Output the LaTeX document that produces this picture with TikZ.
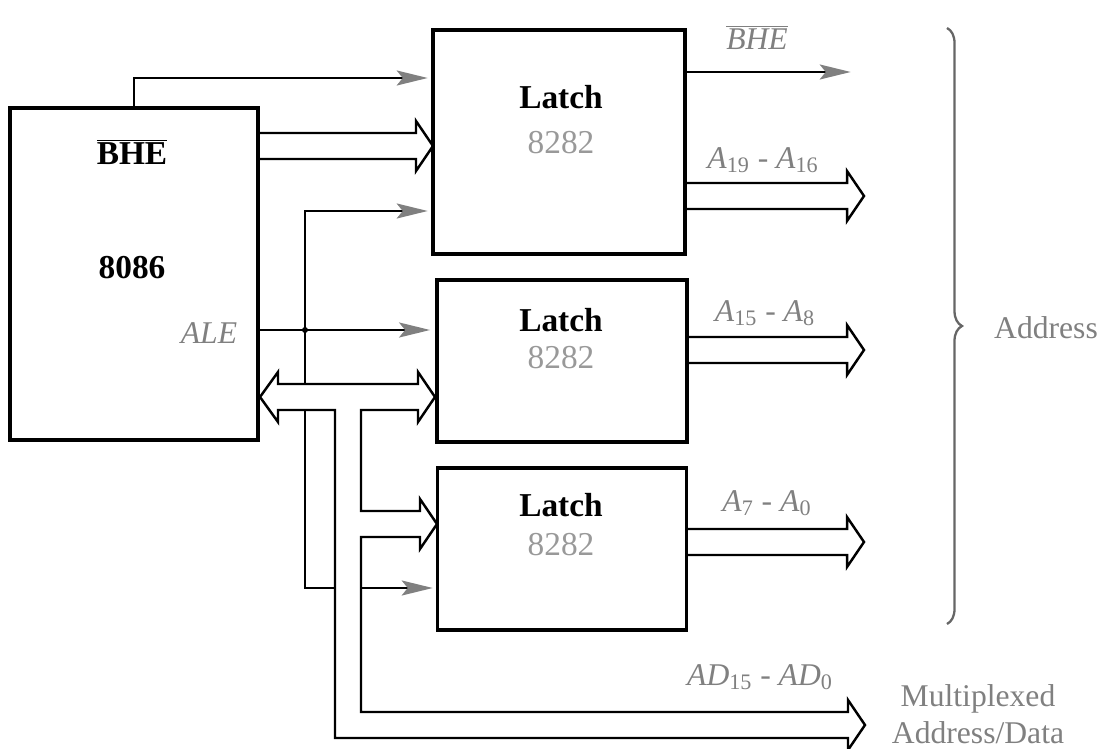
\documentclass[tikz,border=0pt]{standalone}
\usepackage{fontspec}
\setmainfont{Liberation Serif}
\usetikzlibrary{arrows.meta,decorations.pathreplacing,calc}

\tikzset{
  chip/.style={draw, line width=1.9pt, inner sep=0pt},
  sig/.style={line width=1.4pt, shorten >=3pt,
    -{Stealth[length=0.62cm, width=0.3cm, inset=0.12cm, color=black!50]}},
  busline/.style={line width=1.4pt, line join=miter},
  bus/.style={busline, fill=white},
  title/.style={font=\fontsize{19}{22}\selectfont\bfseries},
  part/.style={font=\fontsize{19}{22}\selectfont, black!40},
  lbl/.style={font=\fontsize{18}{21}\selectfont, black!50},
}

% wide (bus) arrow from the x of #1 to the tip #2
\newcommand{\busout}[2]{%
  \draw[busline] let \p1=(#1), \p2=(#2) in
    (\x1,\y2+0.26cm) -- (\x2-0.34cm,\y2+0.26cm) -- (\x2-0.34cm,\y2+0.5cm) -- (\p2)
    -- (\x2-0.34cm,\y2-0.5cm) -- (\x2-0.34cm,\y2-0.26cm) -- (\x1,\y2-0.26cm);}

\begin{document}
\begin{tikzpicture}[x=0.02cm, y=-0.02cm]
    \useasboundingbox (0,0) rectangle (1114,749);

    % Chips
    \node[chip, minimum width=4.96cm, minimum height=6.64cm] (cpu) at (134,274) {};
    \node[chip, minimum width=5.04cm, minimum height=4.48cm] (lat1) at (559,142) {};
    \node[chip, minimum width=5.0cm, minimum height=3.24cm] (lat2) at (562,361) {};
    \node[chip, minimum width=4.98cm, minimum height=3.24cm] (lat3) at (562,549) {};

    % Chip texts
    \node[title] (bhe) at (132,152) {$\overline{\mbox{\bfseries BHE}}$};
    \node[title] (cpun) at (132,268) {8086};
    \node[lbl, font=\fontsize{18}{21}\selectfont\itshape] (ale) at (209,333) {ALE};
    \foreach \k/\y/\z in {1/97/143, 2/320/358, 3/505/545} {
        \node[title] (l\k t) at (561,\y) {Latch};
        \node[part] (l\k n) at (561,\z) {8282};
    }

    % Control lines
    \coordinate (j) at (305,330);
    \coordinate (bhein) at (433,78);
    \coordinate (ale1) at (433,211);
    \coordinate (ale3) at (438,588);
    \draw[sig] (cpu.north) |- (bhein);
    \draw[sig] (cpu.east |- j) -- (lat2.west |- j);
    \draw[sig] (j) |- (ale1);
    \draw[sig] (j) |- (ale3);
    \fill (j) circle (0.06cm);

    % Buses
    \coordinate (i1) at (433,146);
    \busout{cpu.east}{i1}
    \draw[bus] (260,397) -- (278,372) -- (278,384) -- (418,384) -- (418,372) -- (435,397)
        -- (418,422) -- (418,410) -- (361,410) -- (361,511) -- (420,511) -- (420,499)
        -- (437,524) -- (420,549) -- (420,537) -- (361,537) -- (361,712) -- (848,712)
        -- (848,700) -- (865,725) -- (848,750) -- (848,738) -- (335,738) -- (335,410)
        -- (278,410) -- (278,422) -- cycle;

    % Outputs
    \coordinate (bheout) at (856,72);
    \draw[sig] (lat1.east |- bheout) -- (bheout);
    \foreach \k/\y in {1/196, 2/350, 3/542} {
        \coordinate (o\k) at (864,\y);
        \busout{lat\k.east}{o\k}
    }

    % Labels
    \node[lbl] (bhebar) at (757,37) {$\overline{\mbox{\itshape BHE}}$};
    \node[lbl] (a19) at (763,160) {\textit{A}\textsubscript{19} - \textit{A}\textsubscript{16}};
    \node[lbl] (a15) at (765,313) {\textit{A}\textsubscript{15} - \textit{A}\textsubscript{8}};
    \node[lbl] (a7) at (767,503) {\textit{A}\textsubscript{7} - \textit{A}\textsubscript{0}};
    \node[lbl] (ad) at (760,677) {\textit{AD}\textsubscript{15} - \textit{AD}\textsubscript{0}};
    \node[lbl, align=center] (mux) at (978,714) {Multiplexed\\Address/Data};

    % Address brace
    \draw[decorate, decoration={brace, amplitude=0.3cm}, line width=1.3pt, black!60]
        (947,28) -- (947,624);
    \node[lbl] (addr) at (1046,328) {Address};
\end{tikzpicture}
\end{document}
